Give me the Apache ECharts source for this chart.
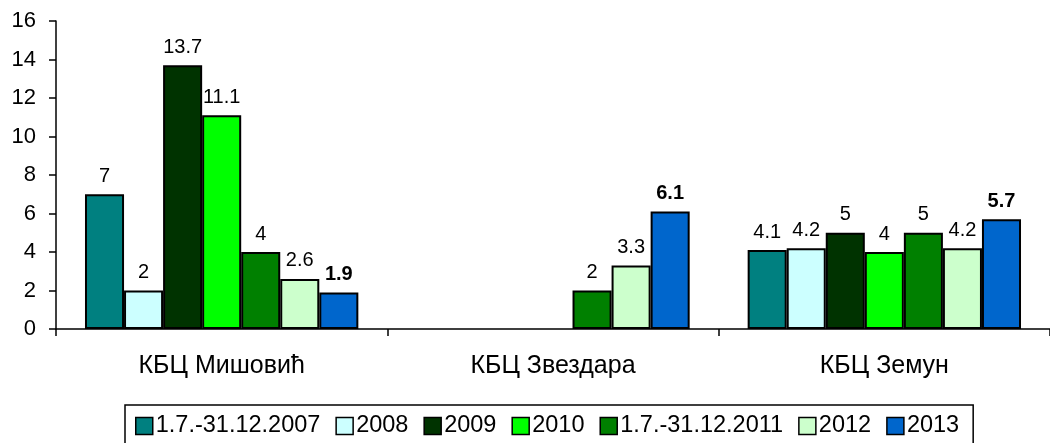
<!DOCTYPE html>
<html>
<head>
<meta charset="utf-8">
<script src="https://cdn.jsdelivr.net/npm/echarts@6/dist/echarts.min.js"></script>
<style>
  html, body { margin: 0; padding: 0; background: #fff; }
</style>
</head>
<body>
<div id="chart" style="width: 1050px; height: 443px"></div>
<script>
// категорије
const categories = ['КБЦ Мишовић', 'КБЦ Звездара', 'КБЦ Земун'];
const seriesNames = ['1.7.-31.12.2007', '2008', '2009', '2010', '1.7.-31.12.2011', '2012', '2013'];
const seriesColors = ['#008080', '#CCFFFF', '#003300', '#00FF00', '#008000', '#CCFFCC', '#0066CC'];
// вредности по серијама
const data2007 = [7, null, 4.1];
const data2008 = [2, null, 4.2];
const data2009 = [13.7, null, 5];
const data2010 = [11.1, null, 4];
const data2011 = [4, 2, 5];
const data2012 = [2.6, 3.3, 4.2];
const data2013 = [1.9, 6.1, 5.7];
const allData = [data2007, data2008, data2009, data2010, data2011, data2012, data2013];

const font = 'Liberation Sans, Arial, sans-serif';
const chart = echarts.init(document.getElementById('chart'));

const series = seriesNames.map((name, i) => ({
  name: name,
  type: 'bar',
  data: allData[i],
  barGap: '0%',
  barCategoryGap: '17.5%',
  itemStyle: { color: seriesColors[i], borderColor: '#000', borderWidth: 2 },
  label: {
    show: true,
    position: 'top',
    distance: 8,
    color: '#000',
    fontFamily: font,
    fontSize: 20,
    fontWeight: i === 6 ? 'bold' : 'normal'
  }
}));

chart.setOption({
  animation: false,
  textStyle: { fontFamily: font },
  grid: { left: 56, right: -11, top: 21, bottom: 114 },
  legend: {
    top: 405,
    left: 125,
    itemWidth: 17,
    itemHeight: 17,
    itemGap: 15,
    padding: [9, 14, 20, 10],
    borderColor: '#000',
    borderWidth: 1.5,
    icon: 'rect',
    itemStyle: { borderColor: '#000', borderWidth: 1.5 },
    textStyle: { fontFamily: font, fontSize: 23.5, color: '#000', padding: [0, 0, 0, -2] }
  },
  xAxis: {
    type: 'category',
    data: categories,
    axisLine: { lineStyle: { color: '#000', width: 1.5 } },
    axisTick: { show: true, length: 7, lineStyle: { color: '#000', width: 1.5 } },
    axisLabel: { color: '#000', fontSize: 25, fontFamily: font, margin: 25 }
  },
  yAxis: {
    type: 'value',
    min: 0,
    max: 16,
    interval: 2,
    splitLine: { show: false },
    axisLine: { show: true, lineStyle: { color: '#000', width: 1.5 } },
    axisTick: { show: true, length: 7, lineStyle: { color: '#000', width: 1.5 } },
    axisLabel: { color: '#000', fontSize: 22, fontFamily: font, margin: 20 }
  },
  series: series
});
</script>
</body>
</html>
